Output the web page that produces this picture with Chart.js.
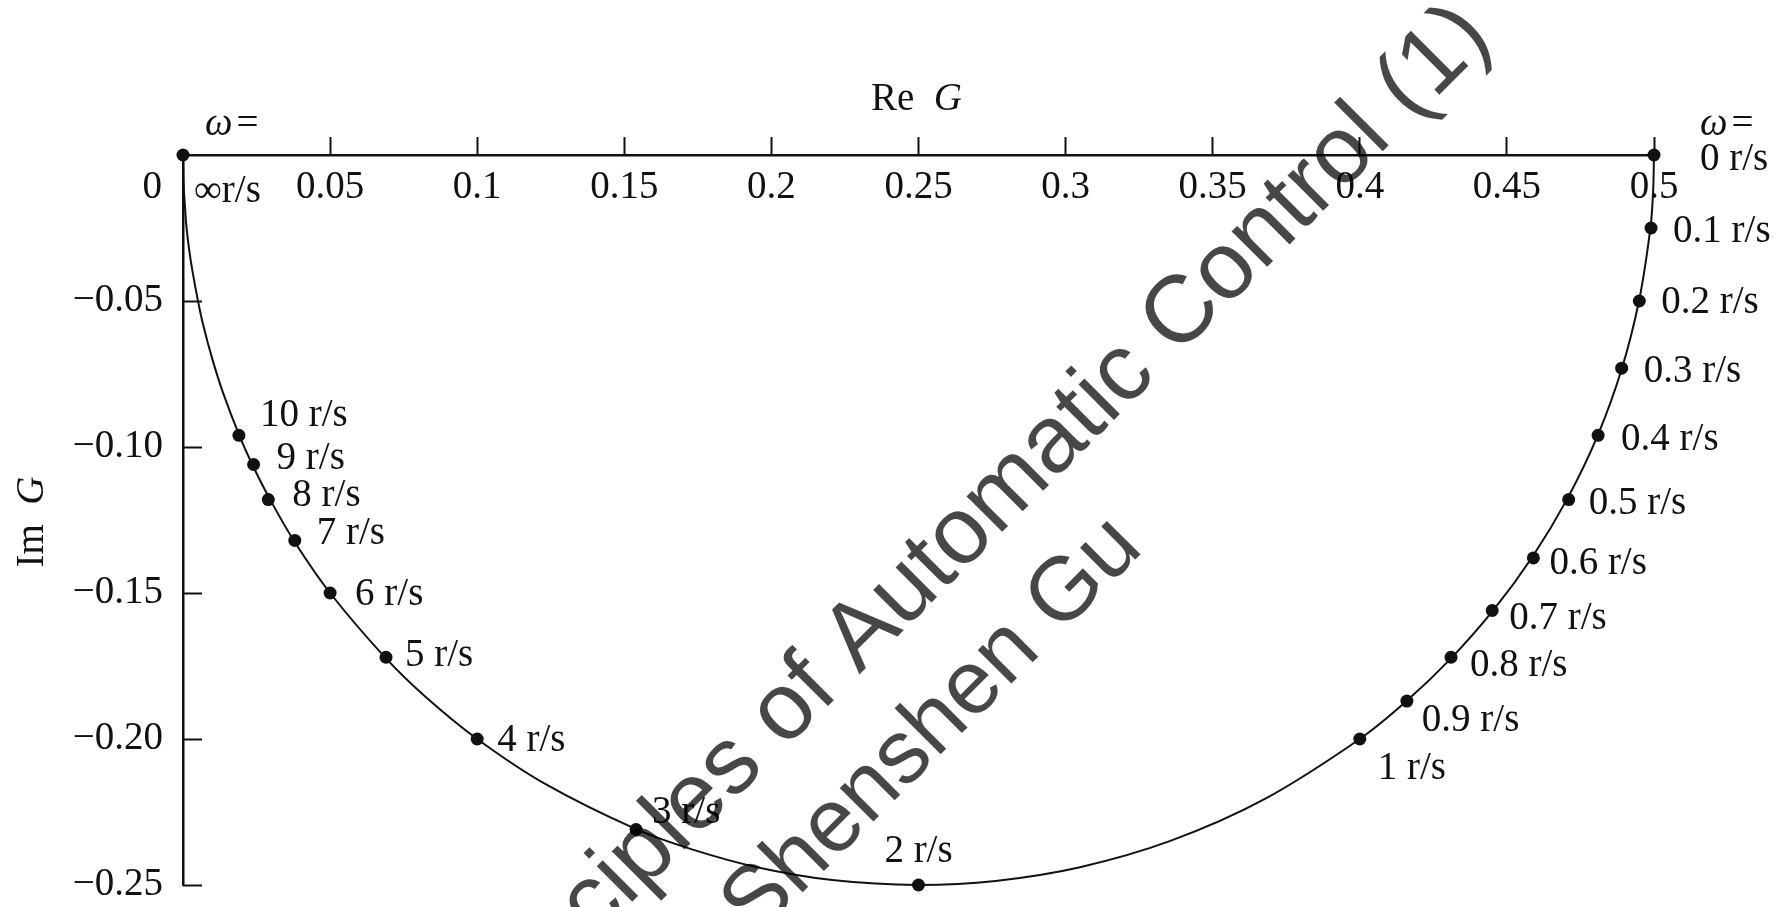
<!DOCTYPE html>
<html>
<head>
<meta charset="utf-8">
<title>Nyquist plot of G(jω)</title>
<script src="https://cdn.jsdelivr.net/npm/chart.js@4/dist/chart.umd.min.js"></script>
<style>
  html, body { margin: 0; padding: 0; background: #ffffff; }
  #wrap { width: 1779px; height: 907px; }
</style>
</head>
<body>
<div id="wrap"><canvas id="nyquist" width="1779" height="907"></canvas></div>
<script>
// Marked frequencies along the locus (ω = 0 … ∞)
const markText = ['0 r/s', '0.1 r/s', '0.2 r/s', '0.3 r/s', '0.4 r/s', '0.5 r/s', '0.6 r/s', '0.7 r/s',
  '0.8 r/s', '0.9 r/s', '1 r/s', '2 r/s', '3 r/s', '4 r/s', '5 r/s', '6 r/s', '7 r/s', '8 r/s',
  '9 r/s', '10 r/s', '∞r/s'];
const markRe = [0.500, 0.499, 0.495, 0.489, 0.481, 0.471, 0.459, 0.445, 0.431, 0.416, 0.400,
  0.250, 0.154, 0.100, 0.069, 0.050, 0.038, 0.029, 0.024, 0.019, 0.000];
const markIm = [0.000, -0.025, -0.050, -0.073, -0.096, -0.118, -0.138, -0.156, -0.172, -0.187, -0.200,
  -0.250, -0.231, -0.200, -0.172, -0.150, -0.132, -0.118, -0.106, -0.096, 0.000];

// Points along the drawn locus, in order of increasing ω
const locusRe = [0.5000, 0.4997, 0.4988, 0.4950, 0.4890, 0.4808, 0.4706, 0.4587, 0.4454, 0.4310, 0.4158,
  0.4000, 0.3676, 0.3356, 0.3049, 0.2762, 0.2500, 0.2207, 0.1951, 0.1730, 0.1538, 0.1231, 0.1000,
  0.0825, 0.0690, 0.0500, 0.0377, 0.0294, 0.0235, 0.0192, 0.0135, 0.0100, 0.0068, 0.0050, 0.0032,
  0.0022, 0.0012, 0.0006, 0.0002, 0.0000];
const locusIm = [0.0000, -0.0125, -0.0249, -0.0495, -0.0734, -0.0962, -0.1176, -0.1376, -0.1559, -0.1724, -0.1871,
  -0.2000, -0.2206, -0.2349, -0.2439, -0.2486, -0.2500, -0.2483, -0.2439, -0.2378, -0.2308, -0.2154, -0.2000,
  -0.1856, -0.1724, -0.1500, -0.1321, -0.1176, -0.1059, -0.0962, -0.0811, -0.0700, -0.0580, -0.0495, -0.0397,
  -0.0332, -0.0249, -0.0166, -0.0100, 0.0000];

// Axis ticks
const xTickValues = [0.05, 0.1, 0.15, 0.2, 0.25, 0.3, 0.35, 0.4, 0.45, 0.5];
const xTickLabels = ['0.05', '0.1', '0.15', '0.2', '0.25', '0.3', '0.35', '0.4', '0.45', '0.5'];
const yTickValues = [-0.05, -0.10, -0.15, -0.20, -0.25];
const yTickLabels = ['\u22120.05', '\u22120.10', '\u22120.15', '\u22120.20', '\u22120.25'];

const SERIF = '"Liberation Serif", "Times New Roman", Times, serif';
const FONT_PX = 39;

function fontOf(italic) {
  return (italic ? 'italic ' : '') + FONT_PX + 'px ' + SERIF;
}

// Draws a run of upright / italic pieces starting at x (left aligned or centred)
function drawRun(ctx, parts, x, y, align) {
  let total = 0;
  parts.forEach(p => { ctx.font = fontOf(p[1]); total += ctx.measureText(p[0]).width + (p[2] || 0); });
  let cx = align === 'center' ? x - total / 2 : x;
  ctx.textAlign = 'left';
  parts.forEach(p => {
    ctx.font = fontOf(p[1]);
    ctx.fillText(p[0], cx, y);
    cx += ctx.measureText(p[0]).width + (p[2] || 0);
  });
}

// Label offsets (px) from each marked point; null = drawn by the endpoint routine
const labelOffsets = [
  null,
  [22, 4], [22, 2], [22, 4], [23, 4], [20, 4], [16, 6], [17, 8], [19, 9], [15, 20], [18, 30],
  [0, -33, 'center'], [16, -17], [20, 2], [19, -1], [25, 2], [22, -7], [24, -4], [23, -6], [21, -20],
  null
];

const whiteBackground = {
  id: 'whiteBackground',
  beforeDraw(chart) {
    const ctx = chart.ctx;
    ctx.save();
    ctx.fillStyle = '#ffffff';
    ctx.fillRect(0, 0, chart.width, chart.height);
    ctx.restore();
  }
};

// Axis decorations: inward y ticks, tick labels under the Re axis, axis titles
const axisDecor = {
  id: 'axisDecor',
  afterDatasetsDraw(chart) {
    const ctx = chart.ctx;
    const xs = chart.scales.x, ys = chart.scales.y;
    const y0 = ys.getPixelForValue(0);
    const x0 = xs.getPixelForValue(0);
    ctx.save();
    ctx.strokeStyle = '#111';
    ctx.lineWidth = 2;
    yTickValues.forEach(v => {
      const py = Math.round(ys.getPixelForValue(v)) + 0.5;
      ctx.beginPath();
      ctx.moveTo(x0, py);
      ctx.lineTo(x0 + 19, py);
      ctx.stroke();
    });
    ctx.fillStyle = '#111';
    ctx.font = fontOf(false);
    ctx.textBaseline = 'middle';
    ctx.textAlign = 'center';
    xTickValues.forEach((v, i) => {
      ctx.fillText(xTickLabels[i], xs.getPixelForValue(v), y0 + 33);
    });
    ctx.textAlign = 'right';
    ctx.fillText('0', x0 - 21, y0 + 33);

    // axis titles
    ctx.textBaseline = 'alphabetic';
    drawRun(ctx, [['Re', false, 0], ['\u2002', false, 0], ['G', true, 0]], (xs.left + xs.right) / 2 - 2, 110, 'center');
    ctx.save();
    ctx.translate(43, (ys.top + ys.bottom) / 2 + 2);
    ctx.rotate(-Math.PI / 2);
    drawRun(ctx, [['Im', false, 0], ['\u2002', false, 0], ['G', true, 0]], 0, 0, 'center');
    ctx.restore();
    ctx.restore();
  }
};

// Frequency labels next to the marked points
const markLabels = {
  id: 'markLabels',
  afterDatasetsDraw(chart) {
    const ctx = chart.ctx;
    const meta = chart.getDatasetMeta(1);
    ctx.save();
    ctx.fillStyle = '#111';
    ctx.font = fontOf(false);
    meta.data.forEach((pt, i) => {
      const off = labelOffsets[i];
      if (!off) return;
      ctx.textBaseline = 'middle';
      ctx.textAlign = off[2] || 'left';
      ctx.fillText(markText[i], pt.x + off[0], pt.y + off[1]);
    });
    // ω = 0 end
    const pA = meta.data[0];
    ctx.textBaseline = 'alphabetic';
    drawRun(ctx, [['ω', true, 4], ['=', false, 0]], pA.x + 46, pA.y - 20);
    ctx.font = fontOf(false);
    ctx.textAlign = 'left';
    ctx.fillText(markText[0], pA.x + 46, pA.y + 15);
    // ω = ∞ end
    const pB = meta.data[meta.data.length - 1];
    drawRun(ctx, [['ω', true, 4], ['=', false, 0]], pB.x + 22, pB.y - 20);
    ctx.font = fontOf(false);
    ctx.textAlign = 'left';
    ctx.fillText(markText[markText.length - 1], pB.x + 11, pB.y + 47);
    ctx.restore();
  }
};

// Publisher watermark over the plot
const watermark = {
  id: 'watermark',
  afterDraw(chart) {
    const ctx = chart.ctx;
    const ang = -45 * Math.PI / 180;
    ctx.save();
    ctx.fillStyle = 'rgba(0,0,0,0.72)';
    ctx.textAlign = 'right';
    ctx.textBaseline = 'alphabetic';
    ctx.save();
    ctx.font = '95px "Liberation Sans", Arial, sans-serif';
    ctx.translate(1494, 40);
    ctx.rotate(ang);
    ctx.fillText('Principles of Automatic Control (1)', 0, 0);
    ctx.restore();
    ctx.save();
    ctx.font = '90px "Liberation Sans", Arial, sans-serif';
    ctx.translate(1145, 550);
    ctx.rotate(ang);
    ctx.fillText('Shenshen Gu', 0, 0);
    ctx.restore();
    ctx.restore();
  }
};

const locusPoints = locusRe.map((re, i) => ({ x: re, y: locusIm[i] }));
const markPoints = markRe.map((re, i) => ({ x: re, y: markIm[i] }));

new Chart(document.getElementById('nyquist'), {
  type: 'scatter',
  data: {
    datasets: [
      {
        label: 'G(jω)',
        data: locusPoints,
        showLine: true,
        borderColor: '#111',
        borderWidth: 2,
        pointRadius: 0,
        tension: 0.3,
        clip: false
      },
      {
        label: 'ω marks',
        data: markPoints,
        showLine: false,
        pointRadius: 6.5,
        pointBackgroundColor: '#111',
        pointBorderColor: '#111',
        pointBorderWidth: 0,
        clip: false
      }
    ]
  },
  options: {
    responsive: false,
    devicePixelRatio: 1,
    animation: false,
    events: [],
    layout: { padding: { left: 0, top: 0, right: 125, bottom: 22 } },
    plugins: { legend: { display: false }, tooltip: { enabled: false } },
    scales: {
      x: {
        type: 'linear',
        position: 'top',
        min: 0,
        max: 0.5,
        afterFit(scale) { scale.height = 155; scale.paddingLeft = 0; scale.paddingRight = 0; },
        ticks: { display: false, stepSize: 0.05 },
        border: { display: true, color: '#111', width: 2.5 },
        grid: {
          drawOnChartArea: false,
          drawTicks: true,
          tickLength: 18,
          tickWidth: 2,
          color: ctx => (ctx.tick && Math.abs(ctx.tick.value) < 1e-9) ? 'rgba(0,0,0,0)' : '#111'
        }
      },
      y: {
        type: 'linear',
        position: 'left',
        min: -0.25,
        max: 0,
        afterFit(scale) { scale.width = 183; scale.paddingTop = 0; scale.paddingBottom = 0; },
        ticks: {
          stepSize: 0.05,
          padding: 20,
          color: '#111',
          font: { family: SERIF, size: FONT_PX },
          callback(value) {
            const i = yTickValues.findIndex(v => Math.abs(v - value) < 1e-6);
            return i >= 0 ? yTickLabels[i] : '';
          }
        },
        border: { display: true, color: '#111', width: 2.5 },
        grid: { drawOnChartArea: false, drawTicks: false }
      }
    }
  },
  plugins: [whiteBackground, axisDecor, markLabels, watermark]
});
</script>
</body>
</html>
